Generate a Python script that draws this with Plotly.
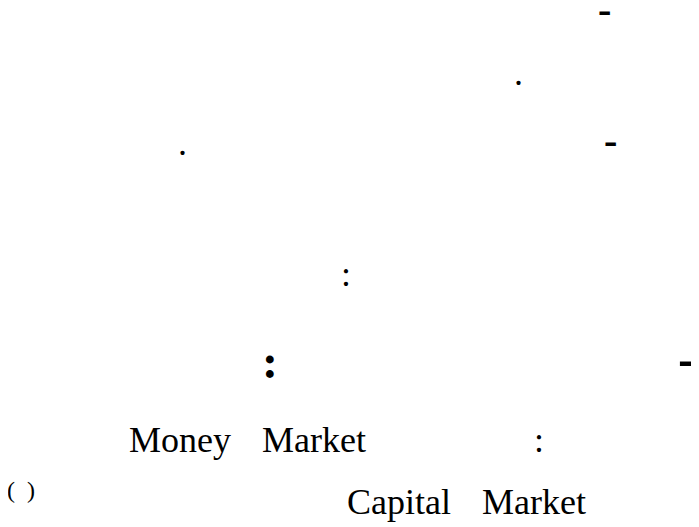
import plotly.graph_objects as go

# Text fragments visible on the page (the Arabic words are absent in the source image)
regular_texts = [".", ".", ":", "Money", "Market", ":", "Capital", "Market"]
regular_x = [518, 182, 346, 127, 260, 539, 345, 480]
regular_y = [73, 143, 274, 440, 440, 440, 502, 502]
regular_anchor = ["center", "center", "center", "left", "left", "center", "left", "left"]

dash_texts = ["-", "-"]
dash_x = [604, 610]
dash_y = [9, 140]

bold_texts = [":", "-"]
bold_x = [270, 686]
bold_y = [361, 358]
bold_sizes = [48, 52]

paren_text = ["(\u00a0\u00a0)"]
paren_x = [21]
paren_y = [490]

FONT = "Liberation Serif, Times New Roman, serif"

# The page body has an 8 px margin, so the figure is sized to fit and its axes
# are mapped to page pixels.
fig = go.Figure()
fig.add_trace(go.Scatter(x=[8, 699], y=[8, 527], mode="markers",
                         marker=dict(opacity=0), hoverinfo="skip", showlegend=False))

ann = []
for t, x, y, a in zip(regular_texts, regular_x, regular_y, regular_anchor):
    ann.append(dict(x=x, y=y, xref="x", yref="y", text=t, showarrow=False,
                    xanchor=a, yanchor="middle",
                    font=dict(family=FONT, size=36, color="#000000")))
for t, x, y in zip(dash_texts, dash_x, dash_y):
    ann.append(dict(x=x, y=y, xref="x", yref="y", text="<b>" + t + "</b>", showarrow=False,
                    xanchor="center", yanchor="middle",
                    font=dict(family=FONT, size=40, color="#000000")))
for t, x, y, s in zip(bold_texts, bold_x, bold_y, bold_sizes):
    ann.append(dict(x=x, y=y, xref="x", yref="y", text="<b>" + t + "</b>", showarrow=False,
                    xanchor="center", yanchor="middle",
                    font=dict(family=FONT, size=s, color="#000000")))
for t, x, y in zip(paren_text, paren_x, paren_y):
    ann.append(dict(x=x, y=y, xref="x", yref="y", text=t, showarrow=False,
                    xanchor="center", yanchor="middle",
                    font=dict(family=FONT, size=24, color="#000000")))

fig.update_layout(
    width=691, height=519,
    margin=dict(l=0, r=0, t=0, b=0),
    paper_bgcolor="white", plot_bgcolor="white",
    xaxis=dict(range=[8, 699], visible=False, fixedrange=True),
    yaxis=dict(range=[527, 8], visible=False, fixedrange=True),
    annotations=ann,
    showlegend=False,
)

fig.write_html("out.html", config={"displayModeBar": False})
